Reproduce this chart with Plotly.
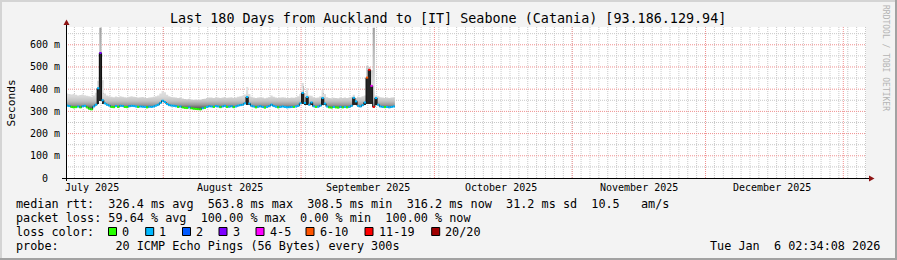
import plotly.graph_objects as go
import pandas as pd

# ---------------- data ----------------
title_text = "Last 180 Days from Auckland to [IT] Seabone (Catania) [93.186.129.94]"
range_start = "2025-07-10 02:34:08"
range_end = "2026-01-06 02:34:08"
step_hours = 12  # one sample every 12 hours, data stops on Sep 22

median_ms = [
    326, 324, 320, 318, 319, 322, 318, 323, 325, 318,
    312, 309, 322, 330, 404, 563, 350, 336, 330, 326,
    320, 319, 324, 320, 325, 324, 320, 319, 323, 325,
    324, 322, 320, 322, 321, 320, 318, 321, 320, 322,
    326, 330, 338, 348, 342, 333, 328, 326, 325, 323,
    320, 322, 318, 316, 315, 318, 314, 312, 311, 310,
    309, 314, 316, 320, 323, 322, 320, 324, 322, 319,
    322, 325, 320, 321, 323, 319, 322, 326, 328, 330,
    336, 365, 335, 325, 322, 318, 321, 323, 320, 317,
    320, 324, 330, 324, 321, 318, 320, 322, 320, 318,
    319, 320, 320, 322, 325, 336, 383, 338, 365, 330,
    340, 323, 320, 321, 326, 360, 335, 322, 318, 317,
    320, 318, 317, 320, 318, 320, 318, 320, 325, 361,
    345, 325, 322, 328, 340, 452, 487, 415, 320, 360,
    330, 322, 320, 319, 320, 318, 320, 322,
]
loss_bin = [
    1, 1, 0, 0, 0, 1, 0, 1, 1, 0,
    0, 0, 1, 1, 1, 3, 1, 1, 1, 1,
    0, 0, 1, 0, 1, 1, 0, 0, 1, 1,
    1, 1, 0, 1, 1, 1, 0, 1, 1, 1,
    1, 1, 1, 1, 1, 1, 1, 1, 1, 1,
    0, 1, 0, 0, 0, 1, 0, 0, 0, 0,
    0, 1, 0, 1, 1, 1, 0, 1, 1, 0,
    1, 1, 0, 1, 1, 0, 1, 1, 1, 1,
    1, 1, 1, 1, 1, 0, 1, 1, 1, 0,
    1, 1, 1, 1, 1, 0, 1, 1, 1, 1,
    1, 1, 0, 1, 1, 1, 1, 1, 1, 1,
    1, 1, 0, 1, 1, 1, 1, 1, 0, 0,
    1, 0, 0, 1, 0, 1, 0, 1, 1, 1,
    1, 1, 1, 1, 1, 5, 6, 4, 6, 1,
    1, 1, 1, 0, 1, 1, 1, 1,
]
smoke_hi_ms = [
    380, 378, 376, 378, 375, 372, 374, 376, 373, 370,
    368, 366, 372, 384, 438, 677, 440, 380, 372, 368,
    366, 364, 367, 365, 368, 366, 364, 362, 366, 368,
    366, 365, 362, 364, 365, 363, 360, 362, 364, 366,
    368, 372, 380, 392, 386, 375, 368, 365, 364, 362,
    360, 362, 358, 356, 355, 357, 354, 352, 353, 352,
    352, 356, 357, 360, 362, 362, 360, 364, 362, 360,
    362, 365, 361, 362, 364, 360, 362, 366, 368, 370,
    376, 410, 378, 366, 362, 360, 362, 364, 362, 359,
    361, 365, 372, 366, 362, 360, 362, 364, 362, 360,
    360, 362, 361, 364, 368, 378, 428, 382, 405, 372,
    370, 364, 361, 362, 368, 396, 378, 364, 360, 359,
    361, 360, 359, 362, 360, 362, 360, 363, 366, 375,
    360, 366, 364, 368, 372, 505, 500, 485, 677, 372,
    368, 364, 362, 360, 362, 360, 362, 364,
]
# dense (dark) smoke during the spikes
spike_idx = [14, 15, 16, 81, 82, 106, 107, 108, 110, 115, 116, 129, 130, 134, 135, 136, 137, 139]
spike_lo_ms = [332, 345, 335, 330, 328, 332, 330, 330, 328, 330, 328, 330, 328, 330, 335, 335, 335, 330]
spike_hi_ms = [404, 563, 385, 398, 350, 415, 352, 392, 362, 382, 345, 367, 352, 360, 495, 490, 478, 362]

loss_labels = ["0", "1", "2", "3", "4-5", "6-10", "11-19", "20/20"]
loss_colors = ["#26ff00", "#00b8ff", "#0059ff", "#7e00ff", "#ff00ff", "#ff5500", "#ff0000", "#a00000"]

y_tick_values = [0, 100, 200, 300, 400, 500, 600]
y_tick_labels = ["0", "100 m", "200 m", "300 m", "400 m", "500 m", "600 m"]
month_starts = ["2025-07-01", "2025-08-01", "2025-09-01", "2025-10-01", "2025-11-01", "2025-12-01", "2026-01-01"]
month_labels = ["July 2025", "August 2025", "September 2025", "October 2025", "November 2025", "December 2025"]

legend_rtt = "median rtt:  326.4 ms avg  563.8 ms max  308.5 ms min  316.2 ms now  31.2 ms sd  10.5   am/s"
legend_loss = "packet loss: 59.64 % avg  100.00 % max  0.00 % min  100.00 % now"
legend_probe = "probe:        20 ICMP Echo Pings (56 Bytes) every 300s"
stamp_text = "Tue Jan  6 02:34:08 2026"
side_text = "RRDTOOL / TOBI OETIKER"

# ---------------- geometry ----------------
W, H = 897, 260
ML, MR, MT, MB = 66, 31, 27, 82
PW, PH = W - ML - MR, H - MT - MB
Y_MAX = 680
FONT = "DejaVu Sans Mono"


def PX(px):
    return (px - ML) / PW


def PY(py):
    return (H - MB - py) / PH


t0 = pd.Timestamp(range_start)
n = len(median_ms)
edges = [t0 + pd.Timedelta(hours=step_hours * i) for i in range(n + 1)]
edges_s = [e.strftime("%Y-%m-%d %H:%M:%S") for e in edges]

fig = go.Figure()

# smoke
fig.add_trace(go.Scatter(x=edges_s, y=median_ms + [median_ms[-1]], mode="lines",
                         line=dict(width=0, shape="hv"), hoverinfo="skip", showlegend=False))
fig.add_trace(go.Scatter(
    x=edges_s, y=smoke_hi_ms + [smoke_hi_ms[-1]], mode="lines",
    line=dict(width=0, shape="hv"), fill="tonexty",
    fillgradient=dict(type="vertical", start=315, stop=680,
                      colorscale=[[0, "#5e5e5e"], [0.04, "#9a9a9a"], [0.085, "#c2c2c2"],
                                  [0.14, "#d8d8d8"], [0.23, "#e4e4e4"], [0.37, "#d4d4d4"],
                                  [1, "#a0a0a0"]]),
    hoverinfo="skip", showlegend=False))

# dark smoke bars
fig.add_trace(go.Bar(
    x=[edges_s[i] for i in spike_idx], base=spike_lo_ms,
    y=[h - l for h, l in zip(spike_hi_ms, spike_lo_ms)],
    width=step_hours * 3600 * 1000, offset=0,
    marker=dict(color="#262626", line=dict(width=0)), hoverinfo="skip", showlegend=False))

# median: black connectors, then loss coloured steps
fig.add_trace(go.Scatter(x=edges_s, y=median_ms + [median_ms[-1]], mode="lines",
                         line=dict(width=1, shape="hv", color="#101010"),
                         hoverinfo="skip", showlegend=False))
for b, col in enumerate(loss_colors):
    xs, ys = [], []
    for i in range(n):
        if loss_bin[i] == b:
            xs += [edges_s[i], edges_s[i + 1], None]
            ys += [median_ms[i], median_ms[i], None]
    if xs:
        fig.add_trace(go.Scatter(x=xs, y=ys, mode="lines", line=dict(width=2, color=col),
                                 hoverinfo="skip", showlegend=False))

shapes = []
dot = "1px,1px"
# minor vertical grid every 2 days
d = pd.Timestamp("2025-07-12")
t_end = pd.Timestamp(range_end)
while d < t_end:
    shapes.append(dict(type="line", xref="x", yref="paper", x0=d, x1=d, y0=0, y1=1,
                       line=dict(color="#c8c8c8", width=1, dash=dot), layer="below"))
    d += pd.Timedelta(days=2)
# minor horizontal grid
for v in range(50, Y_MAX, 100):
    shapes.append(dict(type="line", xref="paper", yref="y", x0=0, x1=1, y0=v, y1=v,
                       line=dict(color="#c8c8c8", width=1, dash=dot), layer="below"))
# major grid
for m in month_starts[1:]:
    shapes.append(dict(type="line", xref="x", yref="paper", x0=m, x1=m, y0=0, y1=1,
                       line=dict(color="#f09090", width=1, dash=dot), layer="below"))
for v in y_tick_values[1:]:
    shapes.append(dict(type="line", xref="paper", yref="y", x0=0, x1=1, y0=v, y1=v,
                       line=dict(color="#f09090", width=1, dash=dot), layer="below"))

# axes + arrows
shapes.append(dict(type="line", xref="paper", yref="paper", x0=PX(66.5), x1=PX(66.5),
                   y0=PY(181), y1=PY(23), line=dict(color="black", width=1)))
shapes.append(dict(type="line", xref="paper", yref="paper", x0=PX(62), x1=PX(870),
                   y0=PY(178.5), y1=PY(178.5), line=dict(color="black", width=1)))
arrow_c = "#8e1414"
shapes.append(dict(type="path", xref="paper", yref="paper",
                   path=f"M {PX(63.5)} {PY(25)} L {PX(69.5)} {PY(25)} L {PX(66.5)} {PY(19.5)} Z",
                   fillcolor=arrow_c, line=dict(width=0)))
shapes.append(dict(type="path", xref="paper", yref="paper",
                   path=f"M {PX(869)} {PY(175.5)} L {PX(869)} {PY(181.5)} L {PX(874.5)} {PY(178.5)} Z",
                   fillcolor=arrow_c, line=dict(width=0)))

# frame
shapes.append(dict(type="line", xref="paper", yref="paper", x0=PX(0), x1=PX(W), y0=PY(1), y1=PY(1),
                   line=dict(color="#d4d4d4", width=2)))
shapes.append(dict(type="line", xref="paper", yref="paper", x0=PX(1), x1=PX(1), y0=PY(0), y1=PY(H),
                   line=dict(color="#d4d4d4", width=2)))
shapes.append(dict(type="line", xref="paper", yref="paper", x0=PX(0), x1=PX(W), y0=PY(H - 1), y1=PY(H - 1),
                   line=dict(color="#a2a2a2", width=2)))
shapes.append(dict(type="line", xref="paper", yref="paper", x0=PX(W - 1), x1=PX(W - 1), y0=PY(0), y1=PY(H),
                   line=dict(color="#a2a2a2", width=2)))

annotations = []


def ann(text, px, py, size, xanchor="left", color="#000000", angle=0, xref="paper", x=None):
    return dict(text=text.replace(" ", "\u00a0"), x=PX(px) if x is None else x, y=PY(py),
                xref=xref, yref="paper", xanchor=xanchor, yanchor="middle", showarrow=False,
                textangle=angle, borderpad=0, borderwidth=0,
                font=dict(family=FONT, size=size, color=color))


annotations.append(ann(title_text, 448, 19, 13.4, xanchor="center"))
annotations.append(ann("Seconds", 10.5, 103, 11.2, xanchor="center", angle=-90))
annotations.append(ann(side_text, 886, 58, 8, xanchor="center", color="#b4b4b4", angle=90))

for v, lab in zip(y_tick_values, y_tick_labels):
    right = 47.5 if lab == "0" else 59.5
    a = ann(lab, right, 0, 10, xanchor="right")
    a["yref"] = "y"
    a["y"] = v
    annotations.append(a)

for m, lab in zip(month_starts[:-1], month_labels):
    xc = (pd.Timestamp(m) + pd.Timedelta(days=15)).strftime("%Y-%m-%d %H:%M:%S")
    annotations.append(ann(lab, 0, 187.5, 10, xanchor="center", xref="x", x=xc))

annotations.append(ann(legend_rtt, 16, 204, 11.8))
annotations.append(ann(legend_loss, 16, 218, 11.8))
annotations.append(ann("loss color:", 16, 232, 11.8))
annotations.append(ann(legend_probe, 16, 246, 11.8))
annotations.append(ann(stamp_text, 880, 246, 11.8, xanchor="right"))

box_left = [108.5, 145.7, 182.5, 219, 256, 306, 365, 431.7]
for bl, lab, col in zip(box_left, loss_labels, loss_colors):
    shapes.append(dict(type="rect", xref="paper", yref="paper", x0=PX(bl), x1=PX(bl + 8),
                       y0=PY(235.5), y1=PY(227.5), fillcolor=col, line=dict(color="black", width=1)))
    annotations.append(ann(lab, bl + 13.5, 232, 11.8))

fig.update_layout(
    width=W, height=H, autosize=False,
    margin=dict(l=ML, r=MR, t=MT, b=MB, pad=0),
    paper_bgcolor="#f3f3f3", plot_bgcolor="#ffffff",
    barmode="overlay", bargap=0,
    xaxis=dict(type="date", range=[range_start, range_end], showgrid=False, showticklabels=False,
               zeroline=False, showline=False, ticks="", fixedrange=True),
    yaxis=dict(range=[0, Y_MAX], showgrid=False, showticklabels=False, zeroline=False,
               showline=False, ticks="", fixedrange=True),
    shapes=shapes, annotations=annotations, showlegend=False,
)

fig.write_html("out.html", config={"displayModeBar": False, "staticPlot": True})
